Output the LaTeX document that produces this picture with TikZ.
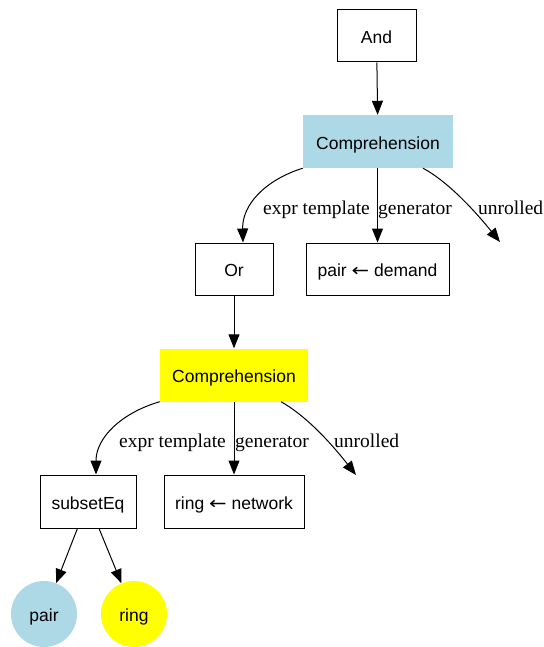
\documentclass[tikz,border=0pt]{standalone}
\usepackage{fontspec}
\setmainfont{Liberation Serif}
\newfontfamily\nodefont{Liberation Sans}
\newfontfamily\arrowfont{DejaVu Sans}
\usetikzlibrary{arrows.meta}
\definecolor{lblue}{HTML}{ADD8E6}
\definecolor{gyellow}{HTML}{FFFF00}
\newcommand{\larr}{{\arrowfont\scalebox{1.2}[1]{←}}}
\begin{document}
\begin{tikzpicture}[x=1pt,y=-1pt,
  nodetext/.style={font=\nodefont\fontsize{17.5}{20}\selectfont, inner sep=0pt,
    text height=15.5pt, text depth=0pt},
  box/.style={nodetext, draw, line width=1pt, minimum height=52pt},
  fillbox/.style={nodetext, minimum height=53pt},
  ball/.style={nodetext, circle, minimum size=66pt},
  edge/.style={-{Triangle[length=14pt,width=11pt]}, line width=1pt},
  lbl/.style={font=\fontsize{19.5}{22}\selectfont, anchor=base west, inner sep=0pt}]
  \useasboundingbox (0,0) rectangle (543,647);

  % nodes
  \node[box, minimum width=79pt] (and) at (376.5,36) {And};
  \node[fillbox, fill=lblue, minimum width=150pt] (c1) at (378,141.5) {Comprehension};
  \node[box, minimum width=78pt] (or) at (234,269) {Or};
  \node[box, minimum width=143pt] (pd) at (377.5,269) {pair \larr{} demand};
  \coordinate (u1) at (500,242);
  \node[fillbox, fill=gyellow, minimum width=148pt] (c2) at (234,375) {Comprehension};
  \node[box, minimum width=96pt, minimum height=53pt] (sub) at (88,501.5) {subsetEq};
  \node[box, minimum width=140pt, minimum height=53pt] (rn) at (234,501.5) {ring \larr{} network};
  \coordinate (u2) at (356,475);
  \node[ball, fill=lblue] (pair) at (44,614) {pair};
  \node[ball, fill=gyellow] (ring) at (134,614) {ring};

  % connectors
  \draw[edge] (and) -- (c1);
  \draw[edge] (c1.south west) .. controls (265,180) and (242,205) .. ([xshift=9pt]or.north);
  \draw[edge] (c1.south -| pd.north) -- (pd.north);
  \draw[edge] ([xshift=45pt]c1.south) .. controls (445,180) and (470,205) .. (u1);
  \draw[edge] (or) -- (c2);
  \draw[edge] (c2.south west) .. controls (121,413) and (96,438) .. ([xshift=8pt]sub.north);
  \draw[edge] (c2) -- (rn);
  \draw[edge] ([xshift=47pt]c2.south) .. controls (303,414) and (327,438) .. (u2);
  \draw[edge] (sub) -- (pair);
  \draw[edge] (sub) -- (ring);

  % edge labels
  \node[lbl] (l1) at (263,214) {expr template};
  \node[lbl] (l2) at (378,214) {generator};
  \node[lbl] (l3) at (478,214) {unrolled};
  \node[lbl] (l4) at (119,447.5) {expr template};
  \node[lbl] (l5) at (235,447.5) {generator};
  \node[lbl] (l6) at (334,447.5) {unrolled};
\end{tikzpicture}
\end{document}
